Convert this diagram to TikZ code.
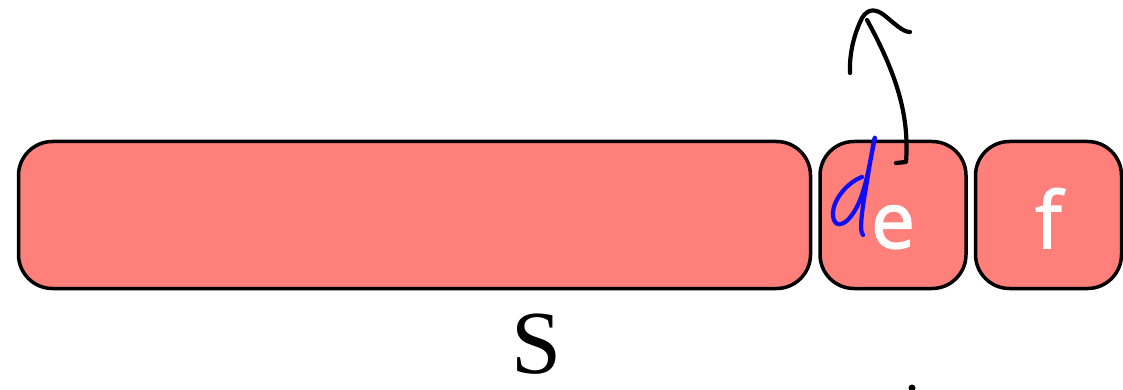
\documentclass[tikz,border=0pt]{standalone}
\usepackage{fontspec}
\setmainfont{Liberation Serif}
\newfontfamily\cellfont[FakeBold=2]{Open Sans}
\usetikzlibrary{positioning}
\definecolor{cellred}{RGB}{255,127,122}
\definecolor{penblue}{RGB}{15,15,245}
\begin{document}
\begin{tikzpicture}[x=1pt,y=-1pt,
    cell/.style={draw=black, line width=3.5pt, fill=cellred, rounded corners=34pt,
      minimum height=147pt, inner sep=0pt, text height=66pt, text depth=0pt,
      text=white, font=\cellfont\fontsize{78}{78}\selectfont},
    pen/.style={line width=4.2pt, line cap=round, line join=round}]
  \useasboundingbox (0,0) rectangle (1123,390);
  % Cells
  \node[cell, minimum width=792pt] (S) at (414.5,215) {};
  \node[cell, minimum width=146pt, right=6pt of S] (e) {e};
  \node[cell, minimum width=146pt, right=6pt of e] (f) {f};
  % Label
  \node[inner sep=0pt, font=\fontsize{90}{90}\selectfont] (Slabel) at (537,344) {S};
  % Handwritten d
  \draw[pen, penblue] (862,177) .. controls (848,182) and (832,200) .. (833,215)
    .. controls (834,232) and (850,225) .. (860,200)
    .. controls (868,180) and (872,150) .. (874,140)
    .. controls (877,130) and (872,150) .. (868,175)
    .. controls (864,200) and (858,230) .. (863,235);
  % Handwritten arrow
  \coordinate (tail) at (896,163);
  \coordinate (tip) at (867,20);
  \draw[pen] (tail) -- (906,162) .. controls (909,120) and (900,80) .. (tip);
  \draw[pen] (850,73) .. controls (849,50) and (856,30) .. (862,18)
    .. controls (868,8) and (876,9) .. (884,15)
    .. controls (895,24) and (903,32) .. (910,32);
  % Stray mark
  \fill (912,388) circle (3.5);
\end{tikzpicture}
\end{document}
